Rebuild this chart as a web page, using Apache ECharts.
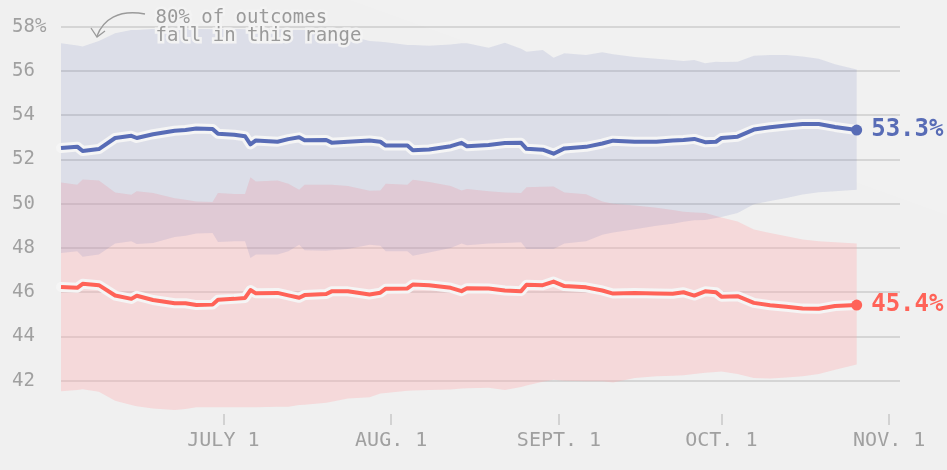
<!DOCTYPE html>
<html>
<head>
<meta charset="utf-8">
<style>
html, body { margin: 0; padding: 0; background: #f0f0f0; }
#chart { width: 947px; height: 470px; }
</style>
<script src="https://cdn.jsdelivr.net/npm/echarts@6/dist/echarts.min.js"></script>
</head>
<body>
<div id="chart"></div>
<script>
// days counted from June 1
var dayOffsets = [0, 3, 4, 7, 10, 13, 14, 17, 21, 23, 25, 28, 29, 32, 34, 35, 36, 40, 42, 44,
  45, 49, 50, 53, 57, 59, 60, 64, 65, 68, 72, 74, 75, 79, 82, 85, 86, 89, 91, 93,
  97, 100, 102, 106, 110, 113, 115, 117, 119, 121, 122, 125, 128, 131, 134, 137, 140, 143, 147];

var demMean = [52.52, 52.58, 52.38, 52.47, 52.97, 53.07, 52.97, 53.14, 53.30, 53.33,
  53.40, 53.38, 53.16, 53.12, 53.05, 52.68, 52.86, 52.80, 52.92, 53.00,
  52.87, 52.88, 52.76, 52.80, 52.86, 52.80, 52.63, 52.63, 52.42, 52.45,
  52.60, 52.75, 52.60, 52.65, 52.74, 52.75, 52.48, 52.44, 52.26, 52.50,
  52.57, 52.72, 52.85, 52.80, 52.80, 52.86, 52.88, 52.93, 52.78, 52.80,
  52.97, 53.03, 53.35, 53.46, 53.53, 53.60, 53.60, 53.47, 53.33];
var demHigh = [57.25, 57.15, 57.10, 57.35, 57.70, 57.85, 57.85, 57.90, 57.90, 57.92,
  57.90, 57.88, 57.88, 57.90, 57.88, 57.88, 57.90, 57.88, 57.85, 57.85,
  57.85, 57.82, 57.80, 57.60, 57.35, 57.32, 57.30, 57.17, 57.17, 57.14,
  57.20, 57.25, 57.25, 57.05, 57.28, 57.00, 56.87, 56.95, 56.60, 56.80,
  56.72, 56.84, 56.75, 56.63, 56.55, 56.50, 56.45, 56.50, 56.35, 56.42,
  56.40, 56.42, 56.69, 56.72, 56.72, 56.65, 56.55, 56.30, 56.07];
var demLow = [47.77, 47.85, 47.60, 47.70, 48.20, 48.30, 48.18, 48.23, 48.50, 48.55,
  48.65, 48.68, 48.27, 48.30, 48.30, 47.55, 47.70, 47.70, 47.85, 48.15,
  47.90, 47.88, 47.90, 47.95, 48.15, 48.10, 47.85, 47.85, 47.65, 47.80,
  48.00, 48.20, 48.12, 48.20, 48.22, 48.26, 47.95, 47.95, 47.95, 48.20,
  48.30, 48.60, 48.70, 48.85, 49.00, 49.10, 49.18, 49.25, 49.27, 49.35,
  49.40, 49.58, 49.98, 50.12, 50.26, 50.42, 50.52, 50.56, 50.63];

var repMean = [46.24, 46.20, 46.38, 46.32, 45.85, 45.70, 45.84, 45.65, 45.50, 45.50,
  45.42, 45.44, 45.66, 45.70, 45.74, 46.10, 45.95, 45.97, 45.86, 45.75,
  45.87, 45.92, 46.04, 46.04, 45.90, 45.98, 46.16, 46.17, 46.35, 46.32,
  46.20, 46.05, 46.18, 46.17, 46.08, 46.05, 46.34, 46.32, 46.48, 46.28,
  46.22, 46.08, 45.94, 45.97, 45.94, 45.93, 46.00, 45.85, 46.04, 46.00,
  45.80, 45.82, 45.52, 45.41, 45.34, 45.26, 45.25, 45.38, 45.42];
var repHigh = [50.96, 50.86, 51.10, 51.05, 50.51, 50.41, 50.56, 50.48, 50.25, 50.18,
  50.10, 50.08, 50.48, 50.44, 50.44, 51.20, 51.00, 51.05, 50.90, 50.63,
  50.86, 50.86, 50.86, 50.80, 50.59, 50.60, 50.90, 50.86, 51.08, 50.98,
  50.80, 50.60, 50.66, 50.56, 50.51, 50.48, 50.75, 50.77, 50.78, 50.51,
  50.43, 50.10, 50.00, 49.92, 49.82, 49.72, 49.64, 49.60, 49.58, 49.45,
  49.38, 49.20, 48.83, 48.68, 48.53, 48.38, 48.30, 48.26, 48.20];
var repLow = [41.52, 41.58, 41.62, 41.50, 41.10, 40.90, 40.85, 40.75, 40.68, 40.72,
  40.80, 40.80, 40.80, 40.80, 40.80, 40.80, 40.80, 40.82, 40.83, 40.90,
  40.92, 41.00, 41.05, 41.20, 41.25, 41.42, 41.45, 41.55, 41.56, 41.58,
  41.60, 41.65, 41.66, 41.68, 41.58, 41.72, 41.78, 41.95, 42.05, 42.00,
  41.98, 41.98, 41.92, 42.12, 42.20, 42.23, 42.25, 42.30, 42.36, 42.40,
  42.42, 42.30, 42.12, 42.10, 42.15, 42.20, 42.30, 42.50, 42.73];

var tickDays = [30, 61, 92, 122, 153];
var tickLabels = ['JULY 1', 'AUG. 1', 'SEPT. 1', 'OCT. 1', 'NOV. 1'];

var BLUE = '#586cb6';
var RED = '#ff6358';
var MONO = '"DejaVu Sans Mono", "Liberation Mono", monospace';

function pairs(arr) {
  return arr.map(function (v, i) { return [dayOffsets[i], v]; });
}

// 80% band drawn as one polygon: upper edge forward, lower edge back
function bandSeries(hi, lo, color) {
  return {
    type: 'custom', silent: true,
    data: [[dayOffsets[0], hi[0]]],
    renderItem: function (params, api) {
      var pts = [];
      for (var i = 0; i < dayOffsets.length; i++) pts.push(api.coord([dayOffsets[i], hi[i]]));
      for (var j = dayOffsets.length - 1; j >= 0; j--) pts.push(api.coord([dayOffsets[j], lo[j]]));
      return { type: 'polygon', shape: { points: pts }, style: { fill: color } };
    }
  };
}
function meanSeries(arr, color) {
  var last = arr.length - 1;
  return [{
    type: 'line', data: pairs(arr), symbol: 'none', silent: true,
    lineStyle: { color: '#f5f5f5', width: 10, cap: 'round', join: 'round' }
  }, {
    type: 'line', data: pairs(arr), symbol: 'none', silent: true,
    lineStyle: { color: color, width: 4, join: 'round' },
    markPoint: {
      silent: true, symbol: 'circle', symbolSize: 11,
      itemStyle: { color: color },
      label: {
        show: true, position: 'right', distance: 9,
        color: color, fontFamily: MONO, fontWeight: 'bold', fontSize: 24,
        formatter: function (p) { return Number(p.value).toFixed(1) + '%'; }
      },
      data: [{ coord: [dayOffsets[last], arr[last]], value: arr[last] }]
    }
  }];
}

var chart = echarts.init(document.getElementById('chart'));

var series = [
  bandSeries(repHigh, repLow, 'rgba(255,170,173,0.33)'),
  bandSeries(demHigh, demLow, 'rgba(87,107,181,0.135)')
].concat(meanSeries(demMean, BLUE)).concat(meanSeries(repMean, RED));

chart.setOption({
  backgroundColor: '#f0f0f0',
  animation: false,
  grid: { left: 61, right: 47, top: 26.7, bottom: 45 },
  xAxis: {
    type: 'value', min: 0, max: 155,
    axisLine: { show: false },
    splitLine: { show: false },
    axisTick: {
      show: true, inside: true, length: 11, customValues: tickDays,
      lineStyle: { color: '#c8c8c8', width: 1.5 }
    },
    axisLabel: {
      customValues: tickDays, margin: 6,
      color: '#a0a0a0', fontFamily: MONO, fontSize: 20,
      formatter: function (v) {
        var i = tickDays.indexOf(v);
        return i >= 0 ? tickLabels[i] : '';
      }
    }
  },
  yAxis: {
    type: 'value', min: 40, max: 58, interval: 2,
    axisLine: { show: false },
    axisTick: { show: false },
    splitLine: { show: true, showMinLine: false, lineStyle: { color: '#cdcdcd', width: 1.5 } },
    axisLabel: {
      align: 'left', margin: 49,
      color: '#a0a0a0', fontFamily: MONO, fontSize: 19,
      formatter: function (v) {
        if (v === 40) return '';
        return v === 58 ? '58%' : String(v);
      }
    }
  },
  graphic: [{
    type: 'polygon', z: -1, silent: true,
    shape: { points: [[350, 0], [947, 0], [947, 215]] },
    style: { fill: 'rgba(255,255,255,0.12)' }
  }, {
    type: 'text', left: 153, top: 6, z: 100,
    style: {
      text: '80% of outcomes\nfall in this range',
      font: '19px ' + MONO, lineHeight: 18,
      fill: '#9a9a9a', stroke: '#f3f3f3', lineWidth: 5
    }
  }, {
    type: 'bezierCurve', z: 100,
    shape: { x1: 145, y1: 14, cpx1: 118, cpy1: 9, cpx2: 103, cpy2: 20, x2: 97, y2: 36 },
    style: { stroke: '#9a9a9a', fill: null, lineWidth: 1.3 }
  }, {
    type: 'polyline', z: 100,
    shape: { points: [[91, 28], [97, 37], [105, 31]] },
    style: { stroke: '#9a9a9a', fill: null, lineWidth: 1.3 }
  }],
  series: series
});
</script>
</body>
</html>
